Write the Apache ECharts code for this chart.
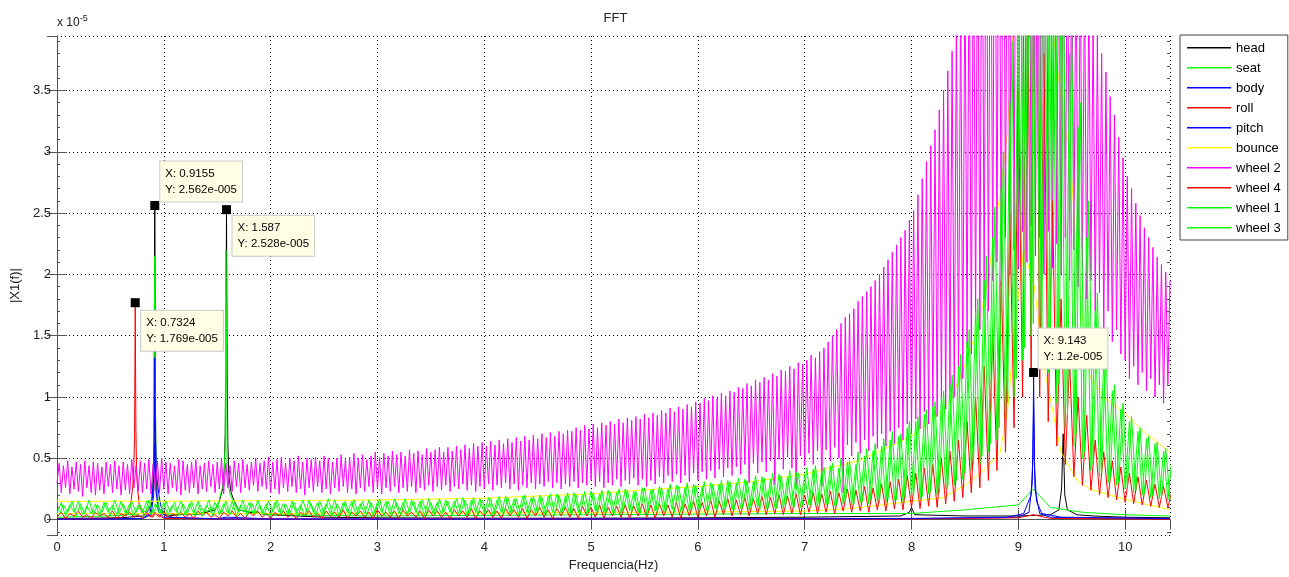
<!DOCTYPE html>
<html><head><meta charset="utf-8">
<script src="https://cdn.jsdelivr.net/npm/echarts@6/dist/echarts.min.js"></script>
<style>html,body{margin:0;padding:0;background:#fff}#c{width:1289px;height:577px}</style>
</head><body><div id="c"></div><script>
// Values are in units of 1e-5 (axis shows "x 10^-5")
const STEP_W2 = 0.02;       // frequency spacing of wheel 2 samples (Hz)
const STEP = 0.04;          // frequency spacing of the other grid-sampled series (Hz)
const OFFSET_W3 = 0.02;     // wheel 3 sampled half a step later
const seriesNames = ['head','seat','body','roll','pitch','bounce','wheel 2','wheel 4','wheel 1','wheel 3'];

// wheel 2 (magenta), f = 0, 0.02, 0.04, ...
const wheel2 = [
0.30,0.46,0.22,0.44,0.26,0.48,0.21,0.43,0.25,0.47,
0.23,0.45,0.19,0.48,0.26,0.44,0.22,0.47,0.20,0.46,
0.24,0.43,0.21,0.47,0.27,0.45,0.22,0.48,0.25,0.44,
0.20,0.47,0.24,0.45,0.21,0.49,0.26,0.44,0.23,0.48,
0.22,0.46,0.25,0.49,0.21,0.45,0.24,0.48,0.22,0.50,
0.25,0.47,0.21,0.46,0.26,0.44,0.23,0.49,0.20,0.48,
0.24,0.45,0.22,0.47,0.26,0.49,0.21,0.44,0.25,0.46,
0.23,0.48,0.27,0.45,0.22,0.47,0.25,0.50,0.21,0.46,
0.26,0.44,0.23,0.48,0.27,0.46,0.22,0.49,0.26,0.45,
0.24,0.47,0.28,0.50,0.23,0.46,0.27,0.48,0.25,0.51,
0.22,0.47,0.25,0.49,0.21,0.51,0.26,0.46,0.23,0.50,
0.27,0.48,0.22,0.52,0.25,0.47,0.20,0.50,0.26,0.49,
0.23,0.51,0.27,0.48,0.22,0.52,0.25,0.50,0.21,0.47,
0.26,0.50,0.23,0.53,0.27,0.49,0.22,0.51,0.25,0.54,
0.21,0.50,0.26,0.53,0.23,0.49,0.27,0.52,0.22,0.55,
0.25,0.51,0.21,0.54,0.26,0.52,0.23,0.56,0.27,0.53,
0.22,0.55,0.26,0.52,0.23,0.57,0.27,0.54,0.22,0.56,
0.26,0.53,0.24,0.58,0.28,0.55,0.23,0.57,0.27,0.59,
0.24,0.55,0.28,0.59,0.23,0.56,0.27,0.60,0.25,0.57,
0.29,0.61,0.24,0.58,0.28,0.62,0.23,0.60,0.27,0.63,
0.25,0.60,0.29,0.64,0.24,0.61,0.28,0.65,0.26,0.62,
0.30,0.66,0.25,0.63,0.29,0.67,0.24,0.64,0.28,0.68,
0.26,0.65,0.30,0.69,0.25,0.66,0.29,0.70,0.27,0.67,
0.31,0.71,0.26,0.68,0.30,0.72,0.25,0.70,0.29,0.73,
0.27,0.72,0.31,0.75,0.26,0.73,0.30,0.77,0.28,0.74,
0.32,0.78,0.27,0.75,0.31,0.79,0.26,0.77,0.30,0.80,
0.28,0.78,0.33,0.82,0.27,0.79,0.32,0.83,0.29,0.81,
0.34,0.84,0.28,0.82,0.33,0.86,0.27,0.83,0.32,0.87,
0.29,0.85,0.35,0.89,0.30,0.87,0.36,0.91,0.31,0.88,
0.37,0.92,0.30,0.90,0.36,0.94,0.31,0.92,0.38,0.96,
0.32,0.95,0.39,0.99,0.33,0.97,0.40,1.01,0.34,0.99,
0.41,1.03,0.35,1.01,0.42,1.05,0.36,1.04,0.43,1.08,
0.37,1.07,0.45,1.11,0.30,1.09,0.46,1.14,0.38,1.12,
0.47,1.16,0.39,1.14,0.48,1.19,0.28,1.17,0.49,1.22,
0.41,1.21,0.51,1.25,0.42,1.23,0.25,1.28,0.52,1.27,
0.44,1.30,0.54,1.34,0.45,1.32,0.56,1.37,0.27,1.40,
0.57,1.45,0.48,1.50,0.59,1.55,0.50,1.60,0.22,1.65,
0.61,1.68,0.52,1.72,0.63,1.78,0.54,1.82,0.65,1.86,
0.56,1.90,0.68,1.95,0.58,2.00,0.70,2.06,0.60,2.12,
0.72,2.18,0.62,2.24,0.75,2.30,0.65,2.36,0.78,2.44,
0.70,2.52,0.82,2.65,0.74,2.78,0.88,2.92,0.78,3.05,
0.92,3.18,0.84,3.34,0.98,3.50,0.90,3.66,1.05,3.82,
1.00,4.05,1.20,4.30,1.15,4.60,1.40,4.90,1.35,5.20,
1.60,5.45,1.55,5.70,1.80,5.90,1.70,6.00,1.95,6.10,
2.10,6.00,1.90,6.20,2.30,6.10,2.00,6.30,2.20,6.20,
2.05,6.10,2.35,6.00,2.10,6.20,2.40,6.00,2.15,5.90,
2.30,5.80,2.00,5.70,2.35,5.60,2.05,5.40,2.25,5.30,
2.00,5.10,2.30,5.00,1.95,4.85,2.20,4.70,1.90,4.60,
2.05,4.45,1.80,4.30,1.95,4.10,1.70,3.95,1.85,3.80,
1.55,3.65,1.70,3.45,1.45,3.30,1.55,3.12,1.35,2.95,
1.30,2.80,1.15,2.70,1.25,2.58,1.10,2.48,1.20,2.38,
1.05,2.30,1.15,2.22,1.00,2.14,1.10,2.08,0.95,2.02,
1.10,1.95];

// wheel 4 (red), f = 0, 0.04, ...
const wheel4 = [
0.02,0.06,0.01,0.05,0.03,0.07,0.02,0.04,0.01,0.06,
0.03,0.05,0.02,0.07,0.01,0.05,0.03,0.06,0.02,0.04,
0.01,0.06,0.03,0.05,0.02,0.07,0.01,0.05,0.03,0.06,
0.02,0.05,0.01,0.07,0.03,0.06,0.02,0.04,0.01,0.06,
0.03,0.07,0.02,0.05,0.01,0.06,0.03,0.07,0.02,0.05,
0.01,0.06,0.03,0.07,0.02,0.05,0.01,0.06,0.03,0.07,
0.02,0.05,0.01,0.07,0.03,0.06,0.02,0.08,0.01,0.06,
0.03,0.07,0.02,0.06,0.01,0.08,0.03,0.06,0.02,0.07,
0.01,0.08,0.03,0.06,0.02,0.07,0.01,0.08,0.03,0.07,
0.02,0.06,0.01,0.08,0.03,0.07,0.02,0.09,0.01,0.07,
0.03,0.08,0.02,0.07,0.01,0.09,0.03,0.08,0.02,0.09,
0.01,0.08,0.03,0.10,0.02,0.08,0.01,0.09,0.03,0.10,
0.02,0.09,0.01,0.11,0.03,0.10,0.02,0.12,0.01,0.10,
0.03,0.11,0.02,0.12,0.01,0.11,0.03,0.13,0.02,0.12,
0.01,0.13,0.03,0.12,0.02,0.14,0.01,0.13,0.03,0.15,
0.02,0.14,0.03,0.16,0.02,0.15,0.04,0.17,0.03,0.16,
0.04,0.18,0.03,0.17,0.05,0.19,0.04,0.18,0.05,0.20,
0.04,0.19,0.05,0.21,0.04,0.20,0.06,0.22,0.05,0.21,
0.06,0.23,0.05,0.22,0.07,0.25,0.06,0.24,0.07,0.27,
0.06,0.26,0.08,0.29,0.07,0.31,0.09,0.33,0.08,0.36,
0.10,0.38,0.09,0.42,0.11,0.45,0.10,0.50,0.13,0.56,
0.15,0.65,0.18,0.80,0.22,1.00,0.26,1.25,0.32,1.55,
0.40,1.95,0.55,2.50,0.75,3.50,1.00,5.00,1.20,6.50,
1.00,3.80,0.80,2.60,0.60,1.80,0.45,1.30,0.35,1.00,
0.28,0.85,0.24,0.65,0.20,0.55,0.18,0.48,0.16,0.43,
0.14,0.38,0.13,0.35,0.12,0.32,0.11,0.29,0.10,0.27,
0.10,0.24];

// wheel 1 (green), f = 0, 0.04, ...
const wheel1 = [
0.05,0.14,0.03,0.12,0.06,0.15,0.04,0.11,0.05,0.13,
0.03,0.14,0.06,0.12,0.04,0.15,0.05,0.13,0.03,0.12,
0.06,0.15,0.04,0.13,0.05,0.14,0.03,0.12,0.06,0.15,
0.04,0.13,0.05,0.15,0.03,0.12,0.06,0.14,0.04,0.13,
0.05,0.15,0.03,0.12,0.06,0.14,0.04,0.16,0.05,0.13,
0.03,0.14,0.06,0.13,0.04,0.15,0.05,0.12,0.03,0.16,
0.06,0.14,0.04,0.13,0.05,0.16,0.03,0.14,0.06,0.15,
0.04,0.13,0.05,0.16,0.03,0.14,0.06,0.15,0.04,0.17,
0.05,0.14,0.04,0.16,0.06,0.15,0.03,0.17,0.05,0.14,
0.04,0.16,0.06,0.15,0.05,0.18,0.03,0.16,0.06,0.17,
0.05,0.18,0.04,0.16,0.06,0.19,0.05,0.17,0.04,0.19,
0.06,0.18,0.05,0.20,0.04,0.19,0.06,0.21,0.05,0.19,
0.04,0.22,0.06,0.20,0.05,0.23,0.07,0.21,0.05,0.24,
0.06,0.22,0.05,0.25,0.07,0.23,0.06,0.26,0.05,0.24,
0.07,0.27,0.06,0.25,0.08,0.28,0.06,0.26,0.07,0.29,
0.08,0.27,0.07,0.30,0.09,0.29,0.07,0.32,0.08,0.30,
0.09,0.33,0.08,0.31,0.10,0.35,0.09,0.33,0.10,0.37,
0.09,0.35,0.11,0.39,0.10,0.37,0.12,0.41,0.10,0.40,
0.12,0.44,0.11,0.42,0.13,0.47,0.12,0.45,0.14,0.52,
0.13,0.56,0.15,0.60,0.14,0.65,0.16,0.68,0.15,0.75,
0.18,0.80,0.17,0.86,0.21,0.92,0.20,1.00,0.25,1.10,
0.28,1.25,0.33,1.45,0.40,1.70,0.45,1.95,0.55,2.30,
0.65,2.70,0.80,3.40,1.00,4.50,1.30,5.50,1.50,6.50,
1.40,6.00,1.20,5.20,0.95,4.40,0.75,3.80,0.60,3.20,
0.50,2.30,0.40,1.70,0.35,1.30,0.30,1.05,0.28,0.90,
0.25,0.80,0.22,0.72,0.20,0.66,0.18,0.62,0.17,0.56,
0.16,0.52];

// wheel 3 (green), f = 0.02, 0.06, ...
const wheel3 = [
0.04,0.12,0.06,0.15,0.03,0.13,0.05,0.16,0.04,0.12,
0.06,0.14,0.03,0.16,0.05,0.13,0.04,0.15,0.06,0.12,
0.03,0.16,0.05,0.13,0.04,0.15,0.06,0.14,0.03,0.13,
0.05,0.15,0.04,0.12,0.06,0.16,0.03,0.13,0.05,0.15,
0.04,0.13,0.06,0.16,0.03,0.14,0.05,0.12,0.04,0.15,
0.06,0.16,0.04,0.13,0.05,0.14,0.03,0.16,0.06,0.13,
0.03,0.15,0.05,0.17,0.04,0.13,0.06,0.15,0.03,0.16,
0.05,0.15,0.04,0.14,0.06,0.17,0.03,0.15,0.05,0.14,
0.04,0.17,0.06,0.15,0.03,0.16,0.05,0.14,0.04,0.17,
0.06,0.15,0.04,0.17,0.06,0.16,0.05,0.18,0.04,0.16,
0.06,0.17,0.05,0.19,0.04,0.18,0.06,0.17,0.05,0.20,
0.04,0.19,0.06,0.18,0.05,0.21,0.04,0.20,0.06,0.22,
0.05,0.20,0.04,0.23,0.06,0.22,0.05,0.24,0.06,0.22,
0.05,0.25,0.07,0.24,0.06,0.23,0.05,0.26,0.07,0.25,
0.06,0.26,0.07,0.29,0.06,0.27,0.08,0.30,0.07,0.28,
0.09,0.31,0.08,0.29,0.07,0.32,0.09,0.31,0.08,0.34,
0.10,0.32,0.09,0.36,0.08,0.34,0.10,0.38,0.09,0.36,
0.11,0.40,0.10,0.38,0.12,0.42,0.11,0.44,0.12,0.43,
0.13,0.46,0.12,0.50,0.14,0.48,0.13,0.55,0.15,0.58,
0.16,0.62,0.14,0.66,0.17,0.72,0.16,0.70,0.18,0.80,
0.20,0.84,0.19,0.90,0.23,0.96,0.22,1.05,0.28,1.18,
0.32,1.35,0.38,1.55,0.45,1.80,0.52,2.15,0.62,2.55,
0.75,3.00,0.95,3.90,1.15,5.00,1.40,6.00,1.60,6.80,
1.50,6.40,1.35,5.60,1.10,4.80,0.85,4.00,0.70,3.40,
0.55,2.60,0.45,1.85,0.38,1.40,0.33,1.10,0.30,0.95,
0.27,0.84,0.24,0.75,0.21,0.68,0.19,0.63,0.18,0.58,
0.17];

// bounce (yellow): two visible branches, [f, value]
const bounceUpper = [[0,0.15],[1,0.15],[2,0.155],[3,0.16],[4,0.175],[5,0.21],[5.46,0.24],[6,0.27],[6.5,0.31],[7,0.37],[7.5,0.48],[8,0.68],[8.27,0.88],[8.36,0.97],[8.45,1.15],[8.55,1.38],[8.64,1.64],[8.72,1.98],[8.77,2.31],[8.84,2.72],[8.9,3.18],[8.95,4.0],[9.05,5.2],[9.15,5.8],[9.25,5.0],[9.33,3.94],[9.42,3.3],[9.49,2.92],[9.55,2.1],[9.6,1.65],[9.67,1.17],[9.8,1.0],[9.98,0.88],[10.2,0.7],[10.42,0.55]];
const bounceLower = [[0,0.05],[1,0.05],[2,0.05],[3,0.052],[4,0.055],[5,0.058],[6,0.062],[7,0.07],[7.43,0.09],[8.0,0.15],[8.3,0.18],[8.5,0.28],[8.7,0.42],[8.83,0.55],[8.9,0.9],[8.97,1.6],[9.05,2.2],[9.15,1.9],[9.25,1.2],[9.4,0.55],[9.55,0.32],[9.67,0.25],[9.98,0.17],[10.42,0.08]];

const head = [[0,0.01],[0.3,0.012],[0.6,0.015],[0.8,0.03],[0.86,0.08],[0.88,0.12],[0.895,0.25],[0.903,0.45],[0.909,0.9],[0.9155,2.562],[0.922,0.85],[0.928,0.4],[0.935,0.22],[0.95,0.1],[0.98,0.05],[1.05,0.03],[1.2,0.05],[1.3,0.04],[1.4,0.06],[1.48,0.08],[1.52,0.15],[1.55,0.25],[1.565,0.4],[1.575,0.7],[1.581,1.3],[1.587,2.528],[1.593,1.2],[1.6,0.6],[1.61,0.35],[1.63,0.22],[1.66,0.15],[1.7,0.08],[1.8,0.06],[1.9,0.05],[2.0,0.04],[2.5,0.02],[3,0.015],[4,0.012],[5,0.012],[6,0.015],[7,0.02],[7.9,0.03],[7.98,0.06],[8.0,0.1],[8.03,0.04],[8.5,0.03],[9.0,0.03],[9.3,0.04],[9.38,0.08],[9.405,0.25],[9.42,0.7],[9.435,0.2],[9.46,0.08],[9.55,0.04],[9.7,0.03],[10,0.02],[10.42,0.015]];
const seat = [[0,0.02],[0.5,0.03],[0.8,0.05],[0.88,0.12],[0.905,0.5],[0.9155,2.15],[0.925,0.45],[0.95,0.1],[1.0,0.05],[1.3,0.04],[1.5,0.1],[1.56,0.3],[1.575,0.6],[1.581,2.2],[1.587,1.5],[1.593,0.4],[1.62,0.2],[1.7,0.08],[2,0.04],[3,0.03],[5,0.04],[7,0.05],[8,0.05],[8.5,0.08],[9,0.12],[9.14,0.25],[9.3,0.1],[9.6,0.06],[10,0.04],[10.42,0.03]];
const body = [[0,0.005],[0.5,0.006],[0.8,0.01],[0.87,0.05],[0.89,0.15],[0.905,0.35],[0.912,0.7],[0.9155,1.32],[0.922,0.65],[0.93,0.4],[0.94,0.3],[0.955,0.2],[0.97,0.12],[1.0,0.04],[1.1,0.015],[1.5,0.008],[1.587,0.02],[2,0.006],[4,0.005],[6,0.006],[8,0.008],[8.8,0.015],[9.0,0.02],[9.1,0.06],[9.13,0.3],[9.143,0.92],[9.156,0.25],[9.2,0.05],[9.3,0.02],[9.6,0.012],[10.42,0.008]];
const roll = [[0,0.004],[0.4,0.006],[0.6,0.015],[0.66,0.05],[0.69,0.12],[0.71,0.28],[0.72,0.45],[0.7263,0.7],[0.7324,1.769],[0.7385,0.75],[0.745,0.4],[0.755,0.25],[0.77,0.12],[0.8,0.05],[0.9,0.02],[0.9155,0.06],[1.0,0.01],[1.5,0.006],[3,0.004],[6,0.004],[8,0.006],[9,0.015],[9.14,0.04],[9.3,0.01],[10.42,0.004]];
const pitch = [[0,0.004],[0.8,0.008],[0.88,0.04],[0.905,0.2],[0.9155,0.62],[0.925,0.25],[0.95,0.06],[1.0,0.02],[1.5,0.006],[3,0.004],[6,0.005],[8,0.01],[8.9,0.02],[9.05,0.05],[9.12,0.2],[9.137,0.5],[9.143,1.2],[9.15,0.45],[9.17,0.15],[9.22,0.05],[9.4,0.02],[10.42,0.01]];

// data tips
const tipX = [0.9155, 1.587, 0.7324, 9.143];
const tipY = [2.562, 2.528, 1.769, 1.2];

// y minor tick positions (every 0.1, skipping the labelled 0.5 steps)
const yMinor = [];
for (let k = -1; k <= 39; k++) { if (k % 5 !== 0) yMinor.push(+(k / 10).toFixed(1)); }

const onGrid = (vals, off, step) => vals.map((v, i) => [+(off + i * step).toFixed(4), v]);

const FONT = '"Liberation Sans", Arial, Helvetica, sans-serif';
const AX = '#555';
const colors = {
  'head':'#000000','seat':'#00FF00','body':'#0000FF','roll':'#FF0000','pitch':'#0000FF',
  'bounce':'#FFFF00','wheel 2':'#FF00FF','wheel 4':'#FF0000','wheel 1':'#00FF00','wheel 3':'#00FF00'
};
function line(name, data) {
  return { type:'line', name, data, symbol:'none', showSymbol:false, silent:true, z:3,
    animation:false, lineStyle:{ width:1, color:colors[name] }, itemStyle:{ color:colors[name] },
    emphasis:{ disabled:true } };
}
const tipOffsets = [[10,-39.5],[10.5,10.5],[10.5,12.5],[9.5,-39.5]];

const series = [
  line('head', head),
  line('seat', seat),
  line('body', body),
  line('roll', roll),
  line('pitch', pitch),
  line('bounce', bounceUpper),
  line('bounce', bounceLower),
  line('wheel 2', onGrid(wheel2, 0, STEP_W2)),
  line('wheel 4', onGrid(wheel4, 0, STEP)),
  line('wheel 1', onGrid(wheel1, 0, STEP)),
  line('wheel 3', onGrid(wheel3, OFFSET_W3, STEP)),
  { type:'scatter', name:'tips', silent:true, animation:false, z:20, symbol:'rect', symbolSize:9,
    itemStyle:{ color:'#000', opacity:1 },
    data: tipX.map((x, i) => ({
      value:[x, tipY[i]],
      label:{ show:true, position:tipOffsets[i], align:'left', verticalAlign:'top',
        formatter:'X: ' + x + '\nY: ' + tipY[i] + 'e-005',
        fontFamily:FONT, fontSize:11.5, lineHeight:16, color:'#000',
        backgroundColor:'#FFFFE6', borderColor:'#C8C8C8', borderWidth:1, padding:[4,5,4,5] }
    })) }
];

const yCommon = { type:'value', min:-0.126, max:3.944, splitNumber:8 };
const xCommon = { type:'value', min:0, max:10.42, interval:1 };
const minorAxis = (pos) => Object.assign({}, yCommon, { position:pos, offset:0,
  axisLine:{ show:false }, axisLabel:{ show:false }, splitLine:{ show:false },
  axisTick:{ show:true, inside:true, length:3, customValues:yMinor, lineStyle:{ color:AX } } });
// legend sample: a 44x14 box with a thin line across the middle
const legendLine = 'path://M0,0h0.01v0.01h-0.01zM0,6h44v1.4h-44zM43.99,13.99h0.01v0.01h-0.01z';
const chart = echarts.init(document.getElementById('c'), null, { renderer:'canvas' });
chart.setOption({
  animation:false,
  backgroundColor:'#fff',
  grid:{ left:57, right:119, top:36, bottom:40, containLabel:false },
  xAxis:[
    Object.assign({}, xCommon, { position:'bottom',
      name:'Frequencia(Hz)', nameLocation:'middle', nameGap:22,
      nameTextStyle:{ fontFamily:FONT, fontSize:13, color:'#222' },
      axisLine:{ show:true, lineStyle:{ color:AX, width:1 } },
      axisTick:{ show:true, inside:true, length:10, lineStyle:{ color:AX } },
      axisLabel:{ fontFamily:FONT, fontSize:13, color:'#222', margin:6, showMaxLabel:false },
      splitLine:{ show:true, lineStyle:{ color:'#000', type:[1,3], width:1 } } }),
    Object.assign({}, xCommon, { position:'top',
      axisLine:{ show:true, lineStyle:{ color:AX, width:1 } },
      axisTick:{ show:true, inside:true, length:10, lineStyle:{ color:AX } },
      axisLabel:{ show:false }, splitLine:{ show:false } })
  ],
  yAxis:[
    Object.assign({}, yCommon, { position:'left',
      name:'|X1(f)|', nameLocation:'middle', nameGap:33,
      nameTextStyle:{ fontFamily:FONT, fontSize:13, color:'#222' },
      axisLine:{ show:true, lineStyle:{ color:AX, width:1 } },
      axisTick:{ show:true, inside:true, length:10, lineStyle:{ color:AX } },
      axisLabel:{ fontFamily:FONT, fontSize:13, color:'#222', margin:6, showMinLabel:false, showMaxLabel:false },
      splitLine:{ show:true, lineStyle:{ color:'#000', type:[1,3], width:1 } } }),
    Object.assign({}, yCommon, { position:'right',
      axisLine:{ show:true, lineStyle:{ color:AX, width:1 } },
      axisTick:{ show:true, inside:true, length:10, lineStyle:{ color:AX } },
      axisLabel:{ show:false }, splitLine:{ show:false } }),
    minorAxis('left'),
    minorAxis('right')
  ],
  legend:{
    data:seriesNames, orient:'vertical', left:1180, top:35, selectedMode:false,
    icon:legendLine, itemWidth:44, itemHeight:14, itemGap:6, padding:[6,7,5,7],
    backgroundColor:'#fff', borderColor:'#444', borderWidth:1, borderRadius:0,
    textStyle:{ fontFamily:FONT, fontSize:13, color:'#000' }
  },
  graphic:[
    { type:'text', left:613.5 - 10, top:12, style:{ text:'FFT', font:'13px ' + FONT, fill:'#222' } },
    { type:'text', left:57, top:14, style:{ text:'x 10{s|-5}', font:'12px ' + FONT, fill:'#222',
        rich:{ s:{ fontSize:9, fontFamily:FONT, verticalAlign:'top', padding:[0,0,8,0] } } } }
  ],
  series
});
</script></body></html>
